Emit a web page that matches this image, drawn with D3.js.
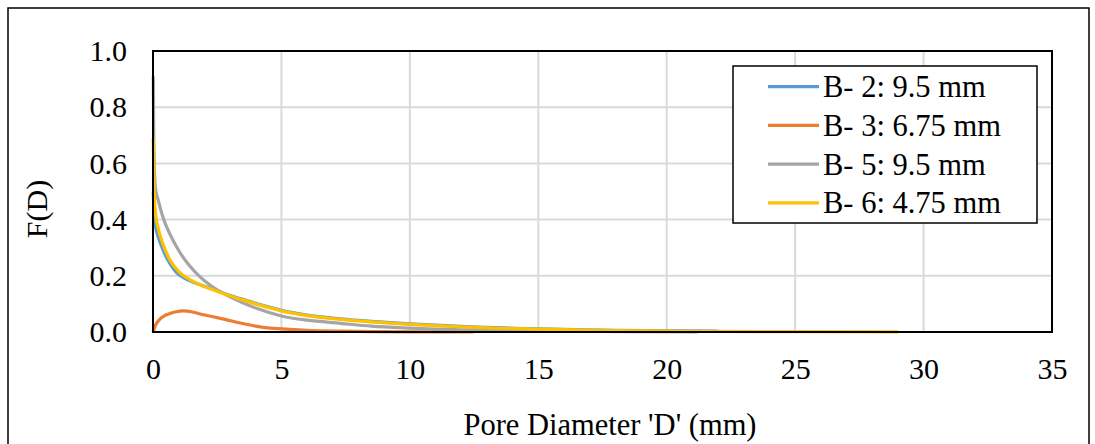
<!DOCTYPE html>
<html><head><meta charset="utf-8">
<script src="https://cdn.jsdelivr.net/npm/d3@7"></script>
<style>body{margin:0;background:#fff}svg{display:block}text{font-family:"Liberation Serif","Times New Roman",serif;fill:#000}</style>
</head><body>
<svg id="c" width="1095" height="444"></svg>
<script>
const seriesNames = ["B- 2: 9.5 mm","B- 3: 6.75 mm","B- 5: 9.5 mm","B- 6: 4.75 mm"];
const seriesColors = ["#5B9BD5","#ED7D31","#A5A5A5","#FFC000"];
const xTicks = [0,5,10,15,20,25,30,35];
const yTicks = [0,0.2,0.4,0.6,0.8,1.0];

const b2X = [0.01,0.03,0.065,0.1,0.2,0.4,0.65,0.9,1.2,1.6,2.0,2.5,3.0,3.4,4.0,4.55,5.0,6.0,7.3,8.5,10,12,15,18,22];
const b2Y = [0.5,0.44,0.4,0.375,0.34,0.29,0.245,0.213,0.193,0.176,0.163,0.147,0.13,0.119,0.102,0.088,0.077,0.06,0.047,0.038,0.029,0.02,0.011,0.006,0.003];

const b3X = [0,0.1,0.27,0.45,0.66,0.9,1.17,1.5,1.83,2.2,2.8,3.4,4.0,4.55,5.0,6.0,7.3,8.5,10,11,12.5];
const b3Y = [0,0.025,0.046,0.058,0.066,0.072,0.075,0.072,0.064,0.057,0.045,0.032,0.021,0.014,0.011,0.006,0.003,0.0015,0.0007,0.0004,0.0002];

const b5X = [0.01,0.03,0.065,0.1,0.2,0.4,0.65,1.0,1.4,1.82,2.3,3.0,4.0,5.0,6.0,7.3,8.5,10,12,14,16,18.5,21.2];
const b5Y = [0.91,0.70,0.55,0.51,0.47,0.405,0.35,0.29,0.238,0.197,0.162,0.125,0.085,0.057,0.042,0.031,0.021,0.014,0.008,0.005,0.003,0.0015,0.0008];

const b6X = [0.01,0.03,0.065,0.1,0.2,0.4,0.65,1.0,1.4,1.83,2.5,3.0,3.4,4.0,4.55,5.0,6.0,7.3,8.5,10,12,15,18,22,25,29];
const b6Y = [0.69,0.55,0.46,0.42,0.37,0.31,0.258,0.215,0.188,0.168,0.145,0.128,0.117,0.1,0.086,0.075,0.058,0.045,0.036,0.027,0.018,0.01,0.005,0.002,0.001,0.0005];

const seriesX = [b2X,b3X,b5X,b6X];
const seriesY = [b2Y,b3Y,b5Y,b6Y];

const svg = d3.select("#c");
const L = 153, R = 1052, T = 51, B = 332;
const x = d3.scaleLinear().domain([0,35]).range([L,R]);
const y = d3.scaleLinear().domain([0,1]).range([B,T]);

// outer frame
svg.append("rect").attr("x",8).attr("y",8).attr("width",1081).attr("height",470)
  .attr("fill","#fff").attr("stroke","#000").attr("stroke-width",1.5);

// gridlines
const g = svg.append("g");
g.selectAll(".vg").data(xTicks.filter(d=>d>0&&d<35)).enter().append("line")
  .attr("x1",d=>x(d)).attr("x2",d=>x(d)).attr("y1",T).attr("y2",B)
  .attr("stroke","#D9D9D9").attr("stroke-width",2);
g.selectAll(".hg").data(yTicks.filter(d=>d>0&&d<1)).enter().append("line")
  .attr("y1",d=>y(d)).attr("y2",d=>y(d)).attr("x1",L).attr("x2",R)
  .attr("stroke","#D9D9D9").attr("stroke-width",2);

// axes with D3 axis generators (labels only)
const xAxis = svg.append("g").attr("transform",`translate(0,${B})`)
  .call(d3.axisBottom(x).tickValues(xTicks).tickSize(0).tickPadding(26).tickFormat(d3.format("d")));
xAxis.select(".domain").remove();
xAxis.selectAll("text").attr("font-size",30).attr("font-family","Liberation Serif").attr("fill","#000");

const yAxis = svg.append("g").attr("transform",`translate(${L},0)`)
  .call(d3.axisLeft(y).tickValues(yTicks).tickSize(0).tickPadding(26).tickFormat(d3.format(".1f")));
yAxis.select(".domain").remove();
yAxis.selectAll("text").attr("font-size",30).attr("font-family","Liberation Serif").attr("fill","#000");

// lines
const line = d3.line().x(d=>x(d[0])).y(d=>y(d[1])).curve(d3.curveMonotoneX);
seriesX.forEach((xs,i)=>{
  const pts = xs.map((v,j)=>[v,seriesY[i][j]]);
  svg.append("path").datum(pts).attr("d",line).attr("fill","none")
    .attr("stroke",seriesColors[i]).attr("stroke-width",3.2)
    .attr("stroke-linejoin","round").attr("stroke-linecap","butt");
});

// plot border
svg.append("rect").attr("x",L).attr("y",T).attr("width",R-L).attr("height",B-T)
  .attr("fill","none").attr("stroke","#000").attr("stroke-width",2);

// axis titles
svg.append("text").attr("x",610).attr("y",435).attr("text-anchor","middle")
  .attr("font-size",30.5).text("Pore Diameter 'D' (mm)");
svg.append("text").attr("transform","translate(47,209) rotate(-90)").attr("text-anchor","middle")
  .attr("font-size",30).text("F(D)");

// legend
const lg = svg.append("g");
lg.append("rect").attr("x",733).attr("y",66).attr("width",304).attr("height",157)
  .attr("fill","#fff").attr("stroke","#000").attr("stroke-width",1.5);
seriesNames.forEach((n,i)=>{
  const cy = 86.7 + i*38.7;
  lg.append("line").attr("x1",768).attr("x2",819).attr("y1",cy).attr("y2",cy)
    .attr("stroke",seriesColors[i]).attr("stroke-width",3.2);
  lg.append("text").attr("x",823).attr("y",cy).attr("dy","0.35em")
    .attr("font-size",30.5).text(n);
});
</script>
</body></html>
